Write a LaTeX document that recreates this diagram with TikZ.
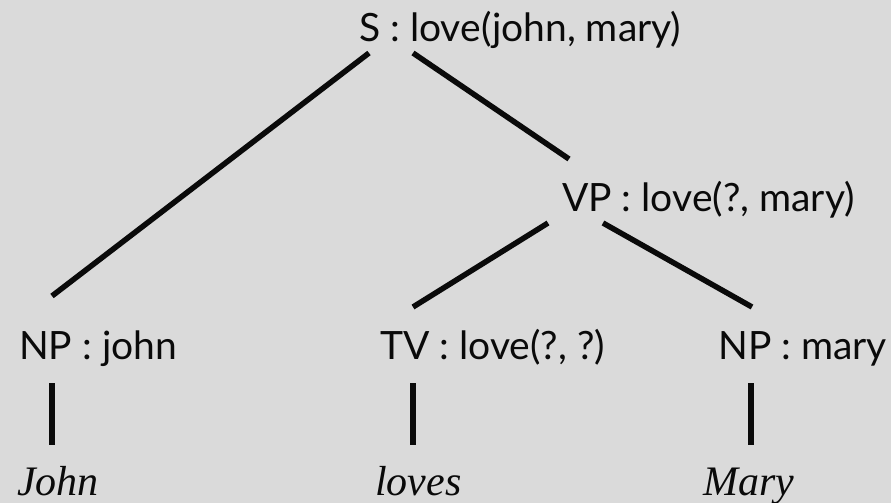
\documentclass[tikz,border=0pt]{standalone}
\usepackage{xcolor}
\usepackage{fontspec}
\setmainfont{Lato}
\newfontfamily\wordfont{Liberation Serif}
\usepackage{tikz}
\usetikzlibrary{calc}
\definecolor{slidegray}{HTML}{DADADA}
\definecolor{inkblack}{HTML}{0A0A0A}
\tikzset{
  cat/.style={anchor=base west, inner sep=0pt, text=inkblack, font=\fontsize{39}{44}\selectfont},
  word/.style={anchor=base west, inner sep=0pt, text=inkblack, font=\wordfont\itshape\fontsize{42}{46}\selectfont},
  branch/.style={draw=inkblack, line width=5.5pt},
}

\begin{document}
\begin{tikzpicture}[x=1pt, y=-1pt]
  \fill[slidegray] (0,0) rectangle (891,503);
  \useasboundingbox (0,0) rectangle (891,503);
  \node[cat] (s) at (359,42) {S : love(john, mary)};
  \node[cat] (vp) at (562,211) {VP : love(?, mary)};
  \node[cat] (npj) at (19,359) {NP : john};
  \node[cat] (tv) at (380,359) {TV : love(?, ?)};
  \node[cat] (npm) at (718,359) {NP : mary};
  \node[word] (john) at (17,495) {John};
  \node[word] (loves) at (375,495) {loves};
  \node[word] (mary) at (703,495) {Mary};
  \draw[branch] ([shift={(10,11)}]s.base west) -- ([shift={(33,-63)}]npj.base west);
  \draw[branch] ([shift={(54,11)}]s.base west) -- ([shift={(7,-52)}]vp.base west);
  \draw[branch] ([shift={(-14,12)}]vp.base west) -- ([shift={(33,-52)}]tv.base west);
  \draw[branch] ([shift={(41,12)}]vp.base west) -- ([shift={(34,-52)}]npm.base west);
  \draw[branch] ([shift={(33,24)}]npj.base west) -- ([shift={(35,-50)}]john.base west);
  \draw[branch] ([shift={(33,24)}]tv.base west) -- ([shift={(38,-50)}]loves.base west);
  \draw[branch] ([shift={(33,24)}]npm.base west) -- ([shift={(48,-50)}]mary.base west);
\end{tikzpicture}
\end{document}
